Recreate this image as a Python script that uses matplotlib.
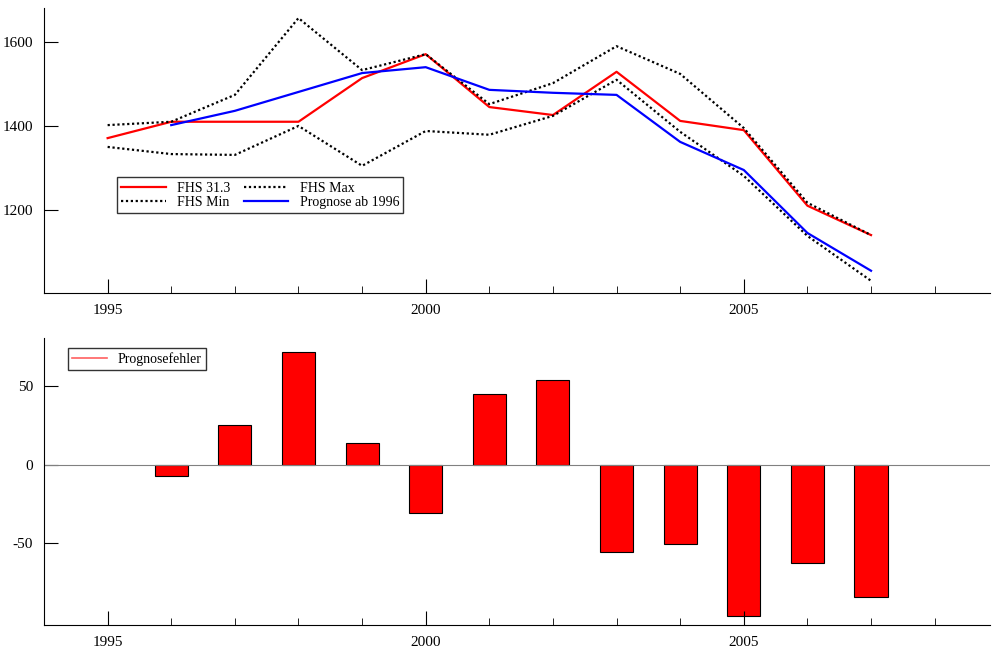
import numpy as np
import matplotlib
matplotlib.use("Agg")
import matplotlib.pyplot as plt
from matplotlib.ticker import MultipleLocator

plt.rcParams['font.family'] = ['Liberation Serif', 'DejaVu Serif']
plt.rcParams['font.size'] = 11
plt.rcParams['axes.unicode_minus'] = False

years = np.arange(1995, 2008)
fhs = [1371, 1410, 1410, 1410, 1514, 1571, 1445, 1426, 1529, 1412, 1390, 1210, 1140]
fhs_max = [1402, 1410, 1474, 1657, 1533, 1571, 1452, 1502, 1590, 1524, 1395, 1217, 1140]
fhs_min = [1350, 1333, 1331, 1400, 1305, 1388, 1379, 1424, 1510, 1386, 1281, 1138, 1031]
prog_years = np.arange(1996, 2008)
prognose = [1402, 1436, 1481, 1526, 1540, 1486, 1479, 1474, 1362, 1295, 1145, 1055]
fehler = [-7, 25.6, 72, 14, -31, 45, 54, -56, -51, -97, -63, -85]

fig = plt.figure(figsize=(9.92, 6.5), dpi=100)
ax1 = fig.add_axes([44/992, 1-293/650, 946/992, 285/650])
ax2 = fig.add_axes([44/992, 1-625/650, 946/992, 287/650])

dots = (0, (1, 1.2))
ax1.plot(years, fhs, color='red', lw=1.6, label='FHS 31.3')
ax1.plot(years, fhs_min, color='black', lw=1.6, ls=dots, label='FHS Min')
ax1.plot(years, fhs_max, color='black', lw=1.6, ls=dots, label='FHS Max')
ax1.plot(prog_years, prognose, color='blue', lw=1.6, label='Prognose ab 1996')
ax1.set_ylim(1002, 1681)
ax1.set_yticks([1200, 1400, 1600])
ax1.legend(ncol=2, loc='upper left', bbox_to_anchor=(0.07, 0.43), fancybox=False,
           edgecolor='black', fontsize=10, borderpad=0.3, labelspacing=0.1,
           columnspacing=1.0, handlelength=3.2)

ax2.bar(prog_years, fehler, width=0.52, color='red', edgecolor='black', lw=0.8, label='Prognosefehler')
ax2.axhline(0, color='gray', lw=0.8)
ax2.set_ylim(-102.6, 81)
ax2.set_yticks([-50, 0, 50])
h = [plt.Line2D([], [], color='#ff6060', lw=1.2)]
ax2.legend(h, ['Prognosefehler'], loc='upper left', bbox_to_anchor=(0.018, 0.99), fancybox=False,
           edgecolor='black', fontsize=10, borderpad=0.3, handlelength=2.5)

for ax in (ax1, ax2):
    ax.set_xlim(1994.0, 2008.87)
    ax.set_xticks([1995, 2000, 2005])
    ax.xaxis.set_minor_locator(MultipleLocator(1))
    ax.spines['top'].set_visible(False)
    ax.spines['right'].set_visible(False)
    ax.tick_params(direction='in', length=10, pad=8)
    ax.tick_params(which='minor', direction='in', length=5)

fig.savefig('out.png', dpi=100)
